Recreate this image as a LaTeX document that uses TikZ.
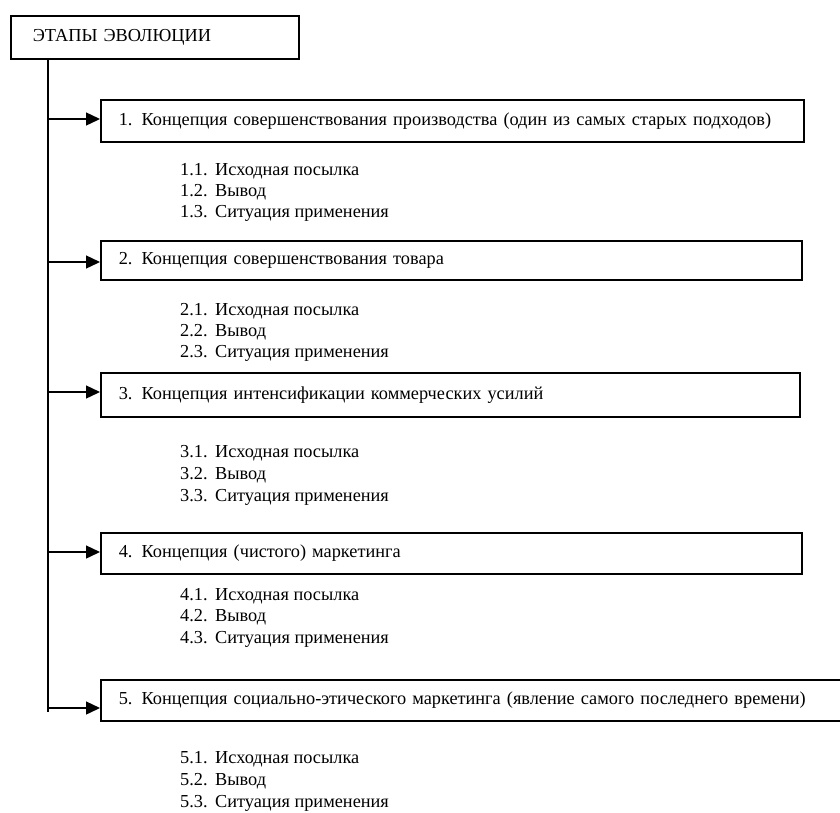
\documentclass[tikz,border=0pt]{standalone}
\usepackage{fontspec}
\setmainfont{Liberation Serif}
\usetikzlibrary{arrows.meta}
\begin{document}
\begin{tikzpicture}[x=1pt,y=1pt,
  font=\fontsize{18.3}{21}\selectfont,
  frame/.style={draw, line width=1.6pt, rectangle, anchor=north west,
    inner ysep=0pt, inner xsep=18pt, align=left},
  spine/.style={line width=1.6pt},
  feed/.style={line width=1.4pt, -{Triangle[length=14pt,width=13pt]}},
  num/.style={anchor=base west, inner sep=0pt},
  item/.style={anchor=base west, inner sep=0pt}]
\clip (0,0) rectangle (840,-812);
\fill[white] (0,0) rectangle (840,-812);

% header
\node[frame, inner xsep=22pt, text width=244pt, minimum height=43pt] (top) at (10,-15) {ЭТАПЫ ЭВОЛЮЦИИ};

% stages
\node[frame, text width=667pt, minimum height=42pt] (b1) at (100,-99)
  {1. Концепция совершенствования производства (один из самых старых подходов)};
\node[frame, text width=665pt, minimum height=39pt] (b2) at (100,-240)
  {2. Концепция совершенствования товара};
\node[frame, text width=663pt, minimum height=44pt] (b3) at (100,-372)
  {3. Концепция интенсификации коммерческих усилий};
\node[frame, text width=665pt, minimum height=41pt] (b4) at (100,-532)
  {4. Концепция (чистого) маркетинга};
\node[frame, text width=714pt, minimum height=41pt] (b5) at (100,-679)
  {5. Концепция социально-этического маркетинга (явление самого последнего времени)};

% trunk and branches
\coordinate (s1) at (48,-119);
\coordinate (s2) at (48,-262);
\coordinate (s3) at (48,-392);
\coordinate (s4) at (48,-552);
\coordinate (s5) at (48,-708);
\coordinate (send) at (48,-712);
\draw[spine] (top.south -| send) -- (send);
\foreach \i in {1,...,5}{
  \draw[feed] (s\i) -- (s\i -| b\i.west);
}

% sub-items
\foreach \g/\ya/\yb/\yc in {1/175/196/217, 2/315/336/357, 3/457/479/501, 4/600/621/643, 5/763/785/807}{
  \node[num] (n\g a) at (180,-\ya) {\g.1.};
  \node[item] (t\g a) at (215,-\ya) {Исходная посылка};
  \node[num] (n\g b) at (180,-\yb) {\g.2.};
  \node[item] (t\g b) at (215,-\yb) {Вывод};
  \node[num] (n\g c) at (180,-\yc) {\g.3.};
  \node[item] (t\g c) at (215,-\yc) {Ситуация применения};
}
\end{tikzpicture}
\end{document}
